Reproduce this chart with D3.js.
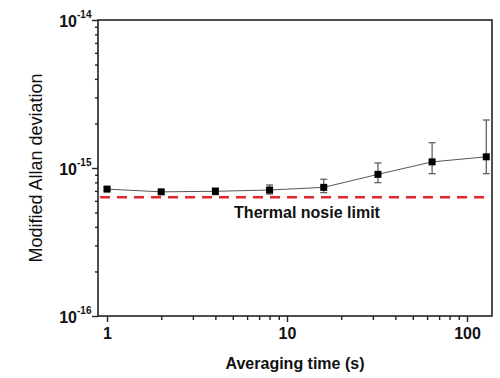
<!DOCTYPE html>
<html><head><meta charset="utf-8">
<script src="https://cdn.jsdelivr.net/npm/d3@7/dist/d3.min.js"></script>
<style>body{margin:0;background:#fff}svg{display:block;font-family:"Liberation Sans",Arial,sans-serif}</style>
</head><body><svg id="c" width="500" height="378"></svg>
<script>
const tau = [1, 2, 4, 8, 16, 32, 64, 128];
const madev = [7.2e-16, 6.9e-16, 6.96e-16, 7.1e-16, 7.4e-16, 9.06e-16, 1.10e-15, 1.19e-15];
const errLow = [7.05e-16, 6.72e-16, 6.6e-16, 6.67e-16, 6.81e-16, 7.96e-16, 9.15e-16, 9.15e-16];
const errHigh = [7.38e-16, 7.05e-16, 7.32e-16, 7.68e-16, 8.39e-16, 1.081e-15, 1.482e-15, 2.11e-15];
const thermalLimit = 6.34e-16;
const xMajor = [1, 10, 100];
const yMajor = [1e-16, 1e-15, 1e-14];
const yExp = ["-16", "-15", "-14"];

const svg = d3.select("#c");
const L = 98, R = 492, T = 20, B = 316;
const x = d3.scaleLog().domain([0.891, 137.7]).range([L, R]);
const y = d3.scaleLog().domain([1e-16, 1e-14]).range([B, T]);

// frame
svg.append("rect").attr("x", L).attr("y", T).attr("width", R - L).attr("height", B - T)
  .attr("fill", "none").attr("stroke", "#222").attr("stroke-width", 1.6);

// x minor ticks
const xMinor = [];
for (const d of [1, 10, 100]) for (let k = 2; k <= 9; k++) if (d * k < 137.7) xMinor.push(d * k);
const gx = svg.append("g").attr("transform", `translate(0,${B})`);
gx.call(d3.axisBottom(x).tickValues(xMinor).tickSize(4).tickFormat(""));
const gx2 = svg.append("g").attr("transform", `translate(0,${B})`);
gx2.call(d3.axisBottom(x).tickValues(xMajor).tickSize(6).tickPadding(6).tickFormat(d3.format("d")));
[gx, gx2].forEach(g => { g.select(".domain").remove(); g.selectAll("line").attr("stroke", "#222").attr("stroke-width", 1.4); });
gx2.selectAll("text").attr("font-size", 16).attr("font-weight", "bold").attr("fill", "#111")
  .attr("font-family", '"Liberation Sans",Arial,sans-serif');

// y ticks
const yMinor = [];
for (const d of [1e-16, 1e-15]) for (let k = 2; k <= 9; k++) yMinor.push(d * k);
const gy = svg.append("g").attr("transform", `translate(${L},0)`);
gy.call(d3.axisLeft(y).tickValues(yMinor).tickSize(3).tickFormat(""));
const gy2 = svg.append("g").attr("transform", `translate(${L},0)`);
gy2.call(d3.axisLeft(y).tickValues(yMajor).tickSize(6).tickFormat(""));
[gy, gy2].forEach(g => { g.select(".domain").remove(); g.selectAll("line").attr("stroke", "#222").attr("stroke-width", 1.4); });
yMajor.forEach((v, i) => {
  const t = svg.append("text").attr("x", 77).attr("y", y(v) + 7).attr("text-anchor", "end")
    .attr("font-size", 16).attr("font-weight", "bold").attr("fill", "#111").text("10");
  svg.append("text").attr("x", 77).attr("y", y(v) - 2).attr("font-size", 10).attr("font-weight", "bold")
    .attr("fill", "#111").text(yExp[i]);
});

// thermal limit
svg.append("line").attr("x1", L + 2).attr("x2", R - 1).attr("y1", y(thermalLimit)).attr("y2", y(thermalLimit))
  .attr("stroke", "#e3262b").attr("stroke-width", 2.6).attr("stroke-dasharray", "10,7");
svg.append("text").attr("x", 307).attr("y", 218).attr("text-anchor", "middle").attr("font-size", 16)
  .attr("font-weight", "bold").attr("fill", "#111").text("Thermal nosie limit");

// data line
const data = tau.map((t, i) => ({ t, v: madev[i], lo: errLow[i], hi: errHigh[i] }));
svg.append("path").datum(data).attr("fill", "none").attr("stroke", "#555").attr("stroke-width", 1)
  .attr("d", d3.line().x(d => x(d.t)).y(d => y(d.v)));
// error bars
const eb = svg.append("g").attr("stroke", "#555").attr("stroke-width", 1.2);
data.forEach(d => {
  eb.append("line").attr("x1", x(d.t)).attr("x2", x(d.t)).attr("y1", y(d.lo)).attr("y2", y(d.hi));
  eb.append("line").attr("x1", x(d.t) - 3.5).attr("x2", x(d.t) + 3.5).attr("y1", y(d.lo)).attr("y2", y(d.lo));
  eb.append("line").attr("x1", x(d.t) - 3.5).attr("x2", x(d.t) + 3.5).attr("y1", y(d.hi)).attr("y2", y(d.hi));
});
svg.append("g").selectAll("rect").data(data).join("rect")
  .attr("x", d => x(d.t) - 3.5).attr("y", d => y(d.v) - 3.5).attr("width", 7).attr("height", 7).attr("fill", "#000");

// axis titles
svg.append("text").attr("x", 295).attr("y", 369).attr("text-anchor", "middle").attr("font-size", 16)
  .attr("font-weight", "bold").attr("fill", "#111").text("Averaging time (s)");
svg.append("text").attr("transform", "translate(42,168) rotate(-90)").attr("text-anchor", "middle")
  .attr("font-size", 18).attr("fill", "#111").text("Modified Allan deviation");
</script></body></html>
